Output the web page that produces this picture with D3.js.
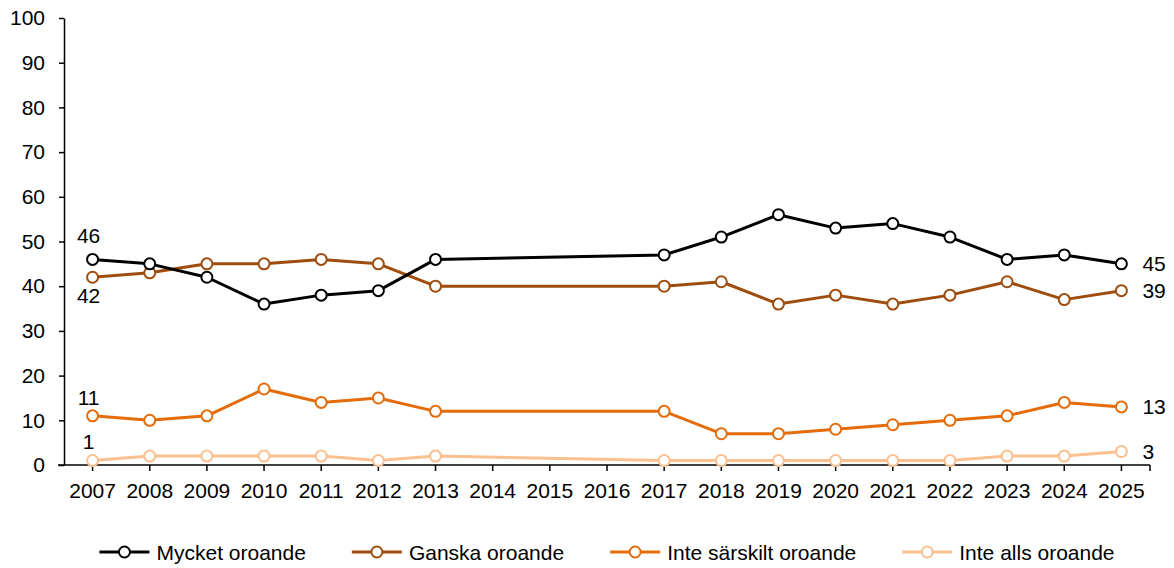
<!DOCTYPE html>
<html>
<head>
<meta charset="utf-8">
<script src="https://cdn.jsdelivr.net/npm/d3@7"></script>
<style>
  body { margin: 0; background: #fff; }
  svg { font-family: "Liberation Sans", Arial, sans-serif; }
  .axis path, .axis line { stroke: #000; stroke-width: 1.5; }
  .axis text { font-size: 21px; fill: #000; }
</style>
</head>
<body>
<svg width="1174" height="568"></svg>
<script>
// data
var years = ["2007","2008","2009","2010","2011","2012","2013","2014","2015","2016",
             "2017","2018","2019","2020","2021","2022","2023","2024","2025"];
var seriesNames = ["Mycket oroande", "Ganska oroande", "Inte särskilt oroande", "Inte alls oroande"];
var mycket  = [46,45,42,36,38,39,46,null,null,null,47,51,56,53,54,51,46,47,45];
var ganska  = [42,43,45,45,46,45,40,null,null,null,40,41,36,38,36,38,41,37,39];
var inteSar = [11,10,11,17,14,15,12,null,null,null,12,7,7,8,9,10,11,14,13];
var inteAll = [1,2,2,2,2,1,2,null,null,null,1,1,1,1,1,1,2,2,3];
var yTicks = [0,10,20,30,40,50,60,70,80,90,100];

var colors = ["#000000", "#9E4D0E", "#E46C0A", "#FAC090"];
var values = [mycket, ganska, inteSar, inteAll];

var svg = d3.select("svg"),
  margin = {top: 18, right: 24, bottom: 103, left: 64},
  width = +svg.attr("width") - margin.left - margin.right,
  height = +svg.attr("height") - margin.top - margin.bottom;

var x = d3.scaleBand().domain(years).range([0, width]);
var y = d3.scaleLinear().domain([0, 100]).range([height, 0]);
var cx = function(yr) { return x(yr) + x.bandwidth() / 2; };

var g = svg.append("g")
  .attr("transform", "translate(" + margin.left + "," + margin.top + ")");

// axes
var xAxis = g.append("g")
  .attr("class", "axis")
  .attr("transform", "translate(0," + height + ")")
  .call(d3.axisBottom(x).tickSize(6).tickSizeOuter(0).tickPadding(12));
xAxis.append("line")
  .attr("x1", width).attr("x2", width)
  .attr("y1", 0).attr("y2", 6);

var yAxis = g.append("g")
  .attr("class", "axis")
  .call(d3.axisLeft(y).tickValues(yTicks).tickSize(5).tickSizeOuter(0).tickPadding(14));
xAxis.select(".domain").attr("d", "M-6,0H" + width);

// series
var series = seriesNames.map(function(name, i) {
  return {
    name: name,
    color: colors[i],
    points: years.map(function(yr, j) { return {year: yr, value: values[i][j]}; })
      .filter(function(d) { return d.value != null; })
  };
});

var line = d3.line()
  .x(function(d) { return cx(d.year); })
  .y(function(d) { return y(d.value); });

// draw lightest first so black sits on top
series.slice().reverse().forEach(function(s) {
  g.append("path")
    .datum(s.points)
    .attr("fill", "none")
    .attr("stroke", s.color)
    .attr("stroke-width", 3)
    .attr("stroke-linejoin", "round")
    .attr("d", line);

  g.selectAll(null)
    .data(s.points)
    .enter()
    .append("circle")
    .attr("cx", function(d) { return cx(d.year); })
    .attr("cy", function(d) { return y(d.value); })
    .attr("r", 5.5)
    .attr("fill", "#fff")
    .attr("stroke", s.color)
    .attr("stroke-width", 2);
});

// start labels (offsets: above or below the first point)
var startOffset = [-16, 26, -11, -12];
series.forEach(function(s, i) {
  var first = s.points[0];
  g.append("text")
    .attr("x", cx(first.year) - 4)
    .attr("y", y(first.value) + startOffset[i])
    .attr("text-anchor", "middle")
    .style("font-size", "21px")
    .text(first.value);

  var last = s.points[s.points.length - 1];
  g.append("text")
    .attr("x", cx(last.year) + 21)
    .attr("y", y(last.value))
    .attr("dy", "0.36em")
    .style("font-size", "21px")
    .text(last.value);
});

// legend
var legendY = 552;
var legend = svg.append("g");
var items = legend.selectAll(null)
  .data(series)
  .enter()
  .append("g");

items.append("line")
  .attr("x1", 0).attr("x2", 50)
  .attr("y1", legendY).attr("y2", legendY)
  .attr("stroke", function(d) { return d.color; })
  .attr("stroke-width", 3);
items.append("circle")
  .attr("cx", 25).attr("cy", legendY)
  .attr("r", 5.5)
  .attr("fill", "#fff")
  .attr("stroke", function(d) { return d.color; })
  .attr("stroke-width", 2);
items.append("text")
  .attr("x", 57)
  .attr("y", legendY)
  .attr("dy", "0.36em")
  .style("font-size", "21px")
  .text(function(d) { return d.name; });

var gap = 46, pos = 0, offsets = [];
items.each(function() {
  offsets.push(pos);
  pos += this.getBBox().width + gap;
});
var total = pos - gap;
var startX = margin.left + width / 2 - total / 2;
items.attr("transform", function(d, i) { return "translate(" + (startX + offsets[i]) + ",0)"; });
</script>
</body>
</html>
